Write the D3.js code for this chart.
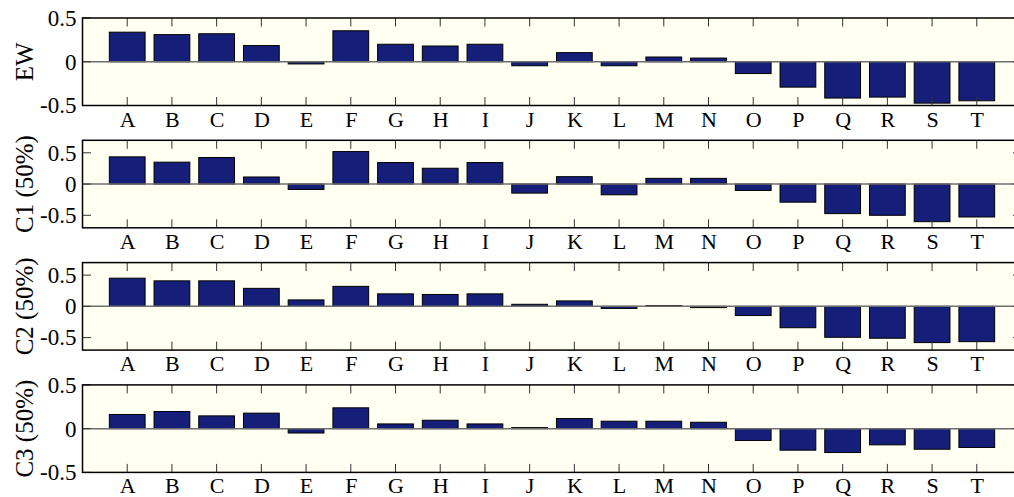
<!DOCTYPE html>
<html>
<head>
<meta charset="utf-8">
<script src="https://cdn.jsdelivr.net/npm/d3@7"></script>
<style>
  html, body { margin: 0; padding: 0; background: #ffffff; }
  svg { display: block; }
</style>
</head>
<body>
<svg id="chart" width="1014" height="497"></svg>
<script>
// Categories along the x axis
const categories = ["A","B","C","D","E","F","G","H","I","J","K","L","M","N","O","P","Q","R","S","T"];

// Series values, one per panel
const ewValues = [0.338, 0.31, 0.32, 0.185, -0.025, 0.354, 0.20, 0.18, 0.20, -0.046,
                  0.104, -0.046, 0.054, 0.042, -0.135, -0.29, -0.415, -0.404, -0.473, -0.446];
const c1Values = [0.435, 0.35, 0.425, 0.113, -0.086, 0.52, 0.344, 0.253, 0.344, -0.145,
                  0.118, -0.172, 0.091, 0.091, -0.102, -0.29, -0.473, -0.50, -0.602, -0.527];
const c2Values = [0.451, 0.408, 0.408, 0.288, 0.103, 0.32, 0.20, 0.19, 0.20, 0.033,
                  0.087, -0.033, 0.012, -0.02, -0.147, -0.342, -0.495, -0.51, -0.58, -0.565];
const c3Values = [0.162, 0.196, 0.146, 0.177, -0.05, 0.238, 0.054, 0.096, 0.054, 0.012,
                  0.115, 0.085, 0.085, 0.073, -0.135, -0.246, -0.273, -0.185, -0.235, -0.215];

// Panel titles, y limits and y tick labels
const panelLabels = ["EW", "C1 (50%)", "C2 (50%)", "C3 (50%)"];
const yLimits = [[-0.5, 0.5], [-0.7, 0.7], [-0.7, 0.7], [-0.5, 0.5]];
const yTickValues = [-0.5, 0, 0.5];

const seriesList = [ewValues, c1Values, c2Values, c3Values];

const FONT = '"Liberation Serif"';
const svg = d3.select("#chart");

const left = 82.5, right = 1021.5;
const panelTop0 = 18, panelStep = 122.3, panelH = 87.5;
const tickLen = 8.5;
const barColor = "#151f79";
const bgColor = "#fffff2";

// positions 1..20 with a one-unit margin on each side
const x = d3.scaleLinear().domain([0, categories.length + 1]).range([left, right]);
const barW = (x(1) - x(0)) * 0.8;

seriesList.forEach((values, i) => {
  const top = panelTop0 + i * panelStep;
  const bottom = top + panelH;
  const y = d3.scaleLinear().domain(yLimits[i]).range([bottom, top]);
  const g = svg.append("g");

  // plot background
  g.append("rect")
    .attr("x", left).attr("y", top)
    .attr("width", right - left).attr("height", panelH)
    .attr("fill", bgColor);

  // bars
  g.selectAll("rect.bar")
    .data(values)
    .join("rect")
    .attr("class", "bar")
    .attr("x", (d, k) => x(k + 1) - barW / 2)
    .attr("width", barW)
    .attr("y", d => y(Math.max(0, d)))
    .attr("height", d => Math.abs(y(d) - y(0)))
    .attr("fill", barColor)
    .attr("stroke", "#000")
    .attr("stroke-width", 1);

  // zero baseline
  g.append("line")
    .attr("x1", left).attr("x2", right)
    .attr("y1", y(0)).attr("y2", y(0))
    .attr("stroke", "#6e6e6e").attr("stroke-width", 1.5);

  // x ticks (top and bottom, pointing inward)
  const xPos = categories.map((c, k) => k + 1);
  const tickG = g.append("g").attr("stroke", "#333").attr("stroke-width", 1);
  xPos.forEach(p => {
    tickG.append("line").attr("x1", x(p)).attr("x2", x(p)).attr("y1", top).attr("y2", top + tickLen);
    tickG.append("line").attr("x1", x(p)).attr("x2", x(p)).attr("y1", bottom).attr("y2", bottom - tickLen);
  });
  // y ticks (left and right, pointing inward)
  yTickValues.forEach(v => {
    tickG.append("line").attr("x1", left).attr("x2", left + tickLen).attr("y1", y(v)).attr("y2", y(v));
    tickG.append("line").attr("x1", right).attr("x2", right - tickLen).attr("y1", y(v)).attr("y2", y(v));
  });

  // frame
  g.append("rect")
    .attr("x", left).attr("y", top)
    .attr("width", right - left).attr("height", panelH)
    .attr("fill", "none").attr("stroke", "#000").attr("stroke-width", 1.5);

  // x tick labels
  const xAxis = d3.axisBottom(x).tickValues(xPos)
    .tickFormat(p => categories[p - 1]).tickSize(0).tickPadding(0);
  const ax = g.append("g").attr("transform", `translate(0,${bottom + 21})`).call(xAxis)
    .attr("font-family", null).attr("font-size", null);
  ax.select(".domain").remove();
  ax.selectAll("text")
    .attr("dy", null).attr("y", 0).attr("fill", "#000")
    .style("font-family", FONT).attr("font-size", 22);

  // y tick labels
  const yAxis = d3.axisLeft(y).tickValues(yTickValues)
    .tickFormat(v => v === 0 ? "0" : (v < 0 ? "-" : "") + Math.abs(v).toString())
    .tickSize(0).tickPadding(0);
  const ay = g.append("g").attr("transform", `translate(${left - 6},0)`).call(yAxis)
    .attr("font-family", null).attr("font-size", null);
  ay.select(".domain").remove();
  ay.selectAll("text").attr("fill", "#000")
    .style("font-family", FONT).attr("font-size", 23);

  // panel label
  g.append("text")
    .attr("transform", `translate(24,${(top + bottom) / 2}) rotate(-90)`)
    .attr("text-anchor", "middle")
    .attr("dominant-baseline", "central")
    .attr("fill", "#000")
    .style("font-family", FONT)
    .attr("font-size", 25)
    .text(panelLabels[i]);
});
</script>
</body>
</html>
